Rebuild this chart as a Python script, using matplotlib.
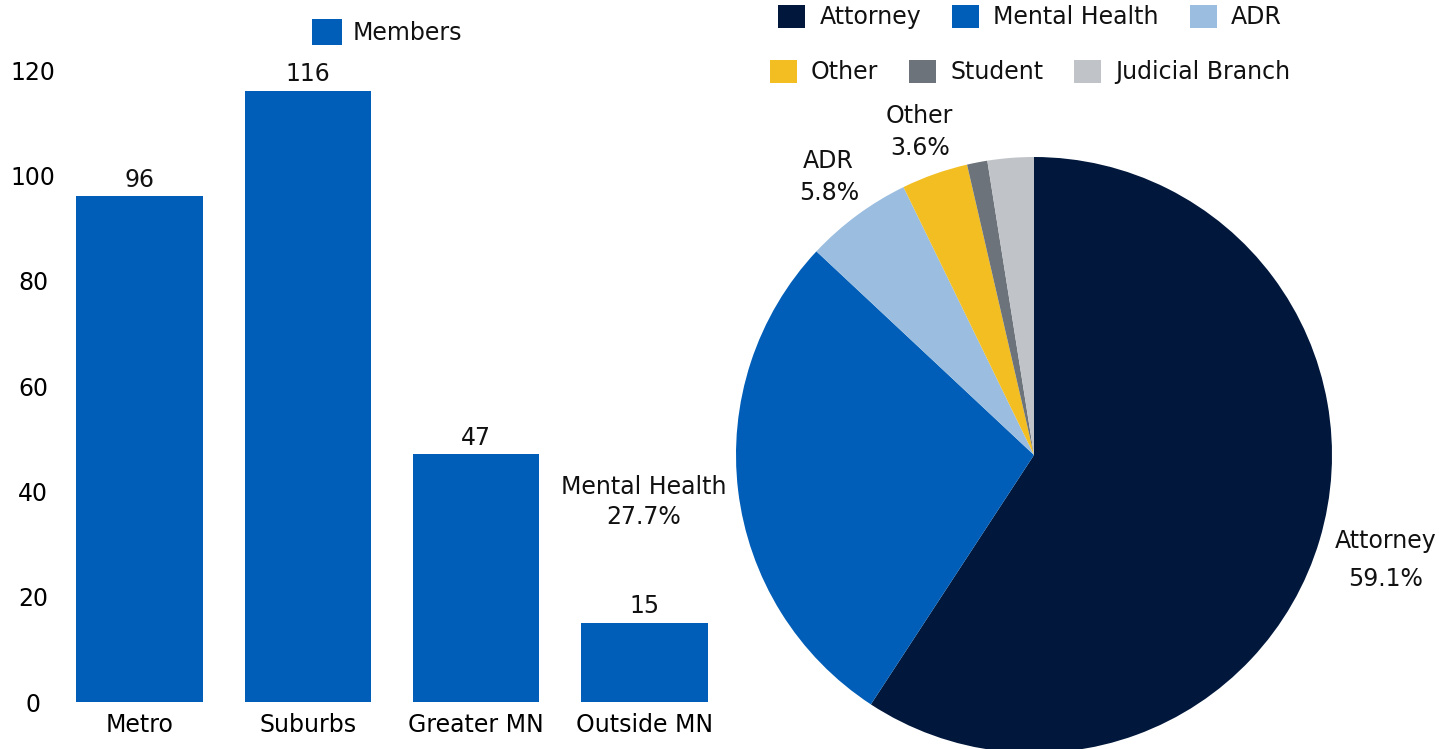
import matplotlib
matplotlib.use("Agg")
import matplotlib.pyplot as plt
import numpy as np

# ---- data ----
regions = ["Metro", "Suburbs", "Greater MN", "Outside MN"]
members = [96, 116, 47, 15]
y_ticks = [0, 20, 40, 60, 80, 100, 120]

roles = ["Attorney", "Mental Health", "ADR", "Other", "Student", "Judicial Branch"]
shares = [59.1, 27.7, 5.8, 3.6, 1.1, 2.5]
show_label = [True, True, True, True, False, False]

# ---- style ----
BAR_COLOR = "#005EB8"
role_colors = ["#01183C", "#005EB8", "#9BBEE0", "#F2BE22", "#6C737A", "#C0C3C8"]
label_dist = [1.23, 1.32, 1.16, 1.15, 1.2, 1.2]
label_ls = [1.75, 1.3, 1.4, 1.4, 1.3, 1.3]
FS = 17
plt.rcParams["font.family"] = ["DejaVu Sans"]
plt.rcParams["text.color"] = "#111111"

W, H = 1439, 749
fig = plt.figure(figsize=(W / 100, H / 100), dpi=100)

# ---- bar chart ----
ax = fig.add_axes([72 / W, 47 / H, 640 / W, 632 / H])
bars = ax.bar(range(len(regions)), members, width=0.75, color=BAR_COLOR, label="Members")
ax.set_xlim(-0.4, len(regions) - 0.6)
ax.set_ylim(0, 120)
ax.set_xticks(range(len(regions)))
ax.set_xticklabels(regions, fontsize=FS)
ax.set_yticks(y_ticks)
ax.set_yticklabels([str(t) for t in y_ticks], fontsize=FS)
for lab in ax.get_yticklabels():
    lab.set_horizontalalignment("center")
ax.tick_params(axis="y", length=0, pad=28)
ax.tick_params(axis="x", length=0, pad=8)
for s in ax.spines.values():
    s.set_visible(False)
for i, v in enumerate(members):
    ax.annotate(str(v), (i, v), xytext=(0, 3.5), textcoords="offset points",
                ha="center", va="bottom", fontsize=FS, annotation_clip=False)

fig.legend(handles=[bars], labels=["Members"], loc="center",
           bbox_to_anchor=(387 / W, 1 - 32 / H), frameon=False, fontsize=FS,
           handlelength=1.3, handleheight=1.3, handletextpad=0.45)

# ---- pie chart ----
R = 298
cx, cy = 1034, H - 455
ax2 = fig.add_axes([(cx - R) / W, (cy - R) / H, 2 * R / W, 2 * R / H])
wedges, _ = ax2.pie(shares, colors=role_colors, startangle=90, counterclock=False,
                    radius=1, wedgeprops=dict(linewidth=0))
ax2.set_xlim(-1, 1)
ax2.set_ylim(-1, 1)
ax2.set_aspect("auto")
ax2.axis("off")
for w, name, val, show, d, ls in zip(wedges, roles, shares, show_label, label_dist, label_ls):
    if not show:
        continue
    th = np.deg2rad((w.theta1 + w.theta2) / 2)
    ax2.text(d * np.cos(th), d * np.sin(th), f"{name}\n{val:.1f}%",
             ha="center", va="center", fontsize=FS, linespacing=ls, clip_on=False)

leg_kw = dict(loc="center", frameon=False, fontsize=FS, ncol=3,
              handlelength=1.15, handleheight=1.15, handletextpad=0.6,
              columnspacing=1.3)
fig.legend(handles=wedges[:3], labels=roles[:3],
           bbox_to_anchor=(1030 / W, 1 - 17 / H), **leg_kw)
fig.legend(handles=wedges[3:], labels=roles[3:],
           bbox_to_anchor=(1030 / W, 1 - 72 / H), **leg_kw)

fig.savefig("out.png", dpi=100)
